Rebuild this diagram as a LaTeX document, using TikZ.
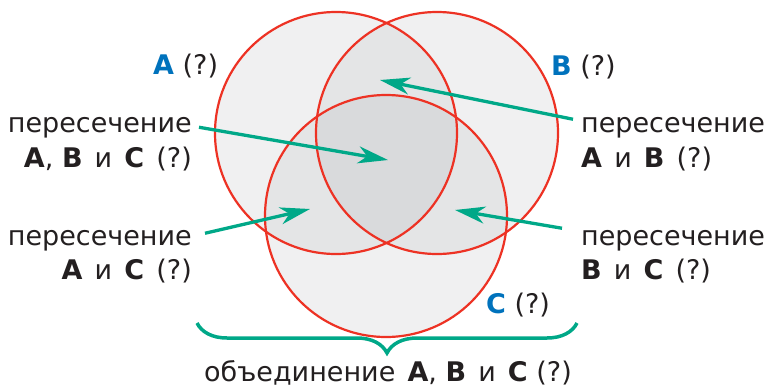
\documentclass[tikz,border=0pt]{standalone}
\usepackage{fontspec}
\setmainfont{DejaVu Sans}
\usepackage{xcolor}
\usetikzlibrary{arrows.meta, decorations.pathreplacing, positioning}
\definecolor{VennRed}{RGB}{237,50,36}
\definecolor{VennTeal}{RGB}{0,168,136}
\definecolor{VennBlue}{RGB}{0,114,188}
\definecolor{VennText}{RGB}{35,31,32}
\definecolor{OneGray}{RGB}{240,240,241}
\definecolor{TwoGray}{RGB}{228,229,230}
\definecolor{ThreeGray}{RGB}{217,218,220}
\newcommand{\gap}{\hspace{0.45em}}
\newcommand{\capL}[1]{{\fontsize{27}{32}\selectfont\bfseries #1}}
\newcommand{\setname}[1]{\textcolor{VennBlue}{\capL{#1}}}

\begin{document}
\begin{tikzpicture}[
  x=1pt, y=-1pt,
  font=\fontsize{27}{32}\selectfont,
  lbl/.style={inner sep=0pt, text=VennText},
  ring/.style={draw=VennRed, line width=2.2pt},
  pointer/.style={-{Stealth[length=30pt, width=17pt, inset=9pt]},
                  VennTeal, line width=3.3pt},
  bracket/.style={VennTeal, line width=3.5pt, decorate,
                  decoration={brace, mirror, amplitude=30pt}},
]
\useasboundingbox (0,0) rectangle (765,386);

% circles
\def\rad{121}
\coordinate (cA) at (336,133);
\coordinate (cB) at (437,133);
\coordinate (cC) at (386,216);
\fill[OneGray] (cA) circle (\rad) (cB) circle (\rad) (cC) circle (\rad);
\begin{scope}
  \clip (cA) circle (\rad);
  \fill[TwoGray] (cB) circle (\rad) (cC) circle (\rad);
\end{scope}
\begin{scope}
  \clip (cB) circle (\rad);
  \fill[TwoGray] (cC) circle (\rad);
\end{scope}
\begin{scope}
  \clip (cA) circle (\rad);
  \clip (cB) circle (\rad);
  \fill[ThreeGray] (cC) circle (\rad);
\end{scope}
\draw[ring] (cA) circle (\rad);
\draw[ring] (cB) circle (\rad);
\draw[ring] (cC) circle (\rad);

% set names
\node[lbl, anchor=base west] (labA) at (153,74) {\setname{A} (?)};
\node[lbl, anchor=base west] (labB) at (551,75) {\setname{B} (?)};
\node[lbl, anchor=base west] (labC) at (486,313) {\setname{C} (?)};

% intersections
\node[lbl, anchor=base east] (tABC) at (192,132) {пересечение};
\node[lbl, anchor=base east] (tABCb) at ([yshift=-35pt]tABC.base east)
  {\capL{A}, \capL{B}\gap и\gap\capL{C}\gap(?)};
\node[lbl, anchor=base west] (tAB) at (581,132) {пересечение};
\node[lbl, anchor=base west] (tABb) at ([yshift=-35pt]tAB.base west)
  {\capL{A}\gap и\gap\capL{B}\gap(?)};
\node[lbl, anchor=base east] (tAC) at (192,245) {пересечение};
\node[lbl, anchor=base east] (tACb) at ([yshift=-34pt]tAC.base east)
  {\capL{A}\gap и\gap\capL{C}\gap(?)};
\node[lbl, anchor=base west] (tBC) at (581,245) {пересечение};
\node[lbl, anchor=base west] (tBCb) at ([yshift=-34pt]tBC.base west)
  {\capL{B}\gap и\gap\capL{C}\gap(?)};

% arrows
\coordinate (pABC) at (388,160);
\coordinate (pAB) at (380,80);
\coordinate (pAC) at (310,209);
\coordinate (pBC) at (455,210);
\draw[pointer] ([xshift=7pt]tABC.east) -- (pABC);
\draw[pointer] ([xshift=-8pt, yshift=8pt]tAB.west) -- (pAB);
\draw[pointer] ([xshift=13pt, yshift=7pt]tAC.east) -- (pAC);
\draw[pointer] ([xshift=-19pt, yshift=12pt]tBC.west) -- (pBC);

% union
\coordinate (brL) at (197,323);
\coordinate (brR) at (577,323);
\draw[bracket] (brL) -- (brR);
\node[lbl, anchor=base west] (union) at (204,381)
  {объединение\gap\capL{A}, \capL{B}\gap и\gap\capL{C} (?)};

\end{tikzpicture}
\end{document}
